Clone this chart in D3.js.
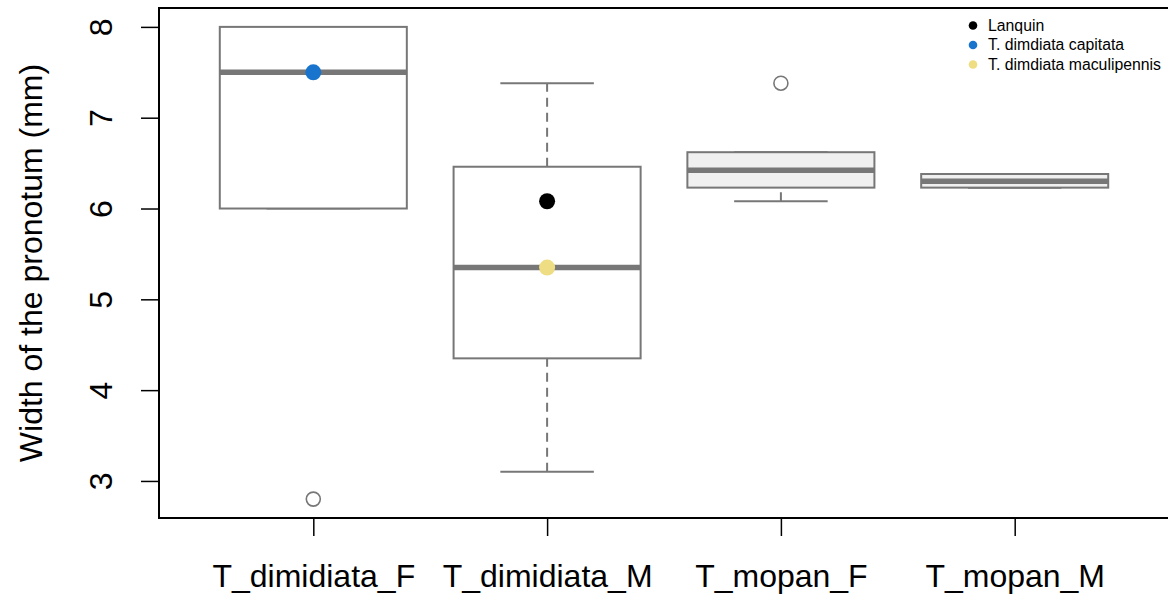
<!DOCTYPE html>
<html>
<head>
<meta charset="utf-8">
<script src="https://cdn.jsdelivr.net/npm/d3@7"></script>
<style>
  body { margin: 0; background: #fff; }
  svg { display: block; font-family: "Liberation Sans", Arial, sans-serif; }
</style>
</head>
<body>
<svg id="chart" width="1168" height="594"></svg>
<script>
// data
const groups = ["T_dimidiata_F", "T_dimidiata_M", "T_mopan_F", "T_mopan_M"]
const whiskerLow = [6.0, 3.10, 6.08, 6.23]
const q1 = [6.0, 4.35, 6.23, 6.23]
const median = [7.5, 5.35, 6.42, 6.30]
const q3 = [8.0, 6.46, 6.62, 6.38]
const whiskerHigh = [8.0, 7.38, 6.62, 6.38]
const boxFill = ["#ffffff", "#ffffff", "#f0f0f0", "#f0f0f0"]
const outliers = [{g: 1, v: 2.8}, {g: 3, v: 7.38}]

const specimenNames = ["Lanquin", "T. dimdiata capitata", "T. dimdiata maculipennis"]
const specimenColors = ["#000000", "#1874cd", "#eedd82"]
const specimenGroup = [2, 1, 2]
const specimenValue = [6.08, 7.5, 5.35]

const yTicks = [3, 4, 5, 6, 7, 8]

const svg = d3.select("#chart")
const plotLeft = 159, plotRight = 1169, plotTop = 8, plotBottom = 518
const grey = "#777777"

const x = d3.scaleLinear().domain([0.34, 4.66]).range([plotLeft, plotRight])
const y = d3.scaleLinear().domain([2.592, 8.208]).range([plotBottom, plotTop])
const unit = x(2) - x(1)
const boxW = 0.8 * unit

// axes
const yAxis = svg.append("g")
    .attr("transform", `translate(${plotLeft},0)`)
    .call(d3.axisLeft(y).tickValues(yTicks).tickSize(18).tickFormat(d3.format("d")))
yAxis.select(".domain").remove()
yAxis.selectAll(".tick line").attr("stroke", "#000").attr("stroke-width", 1.5)
yAxis.selectAll(".tick text")
    .attr("x", null).attr("dy", null)
    .attr("transform", "translate(-47,0) rotate(-90)")
    .attr("text-anchor", "middle")
    .attr("font-size", 32).attr("fill", "#000")

const xAxis = svg.append("g")
    .attr("transform", `translate(0,${plotBottom})`)
    .call(d3.axisBottom(x).tickValues([1, 2, 3, 4]).tickSize(18).tickFormat((d, i) => groups[i]))
xAxis.select(".domain").remove()
xAxis.selectAll(".tick line").attr("stroke", "#000").attr("stroke-width", 1.5)
xAxis.selectAll(".tick text")
    .attr("y", 69).attr("dy", null)
    .attr("font-size", 32).attr("fill", "#000")

svg.append("text")
    .attr("transform", `translate(42,${(plotTop + plotBottom) / 2}) rotate(-90)`)
    .attr("text-anchor", "middle")
    .attr("font-size", 32)
    .text("Width of the pronotum (mm)")

// boxes
const box = svg.selectAll("g.box")
    .data(groups.map((g, i) => i))
    .join("g").attr("class", "box")

box.append("line")
    .attr("x1", i => x(i + 1)).attr("x2", i => x(i + 1))
    .attr("y1", i => y(whiskerLow[i])).attr("y2", i => y(q1[i]))
    .attr("stroke", grey).attr("stroke-width", 2).attr("stroke-dasharray", "9,6")
box.append("line")
    .attr("x1", i => x(i + 1)).attr("x2", i => x(i + 1))
    .attr("y1", i => y(q3[i])).attr("y2", i => y(whiskerHigh[i]))
    .attr("stroke", grey).attr("stroke-width", 2).attr("stroke-dasharray", "9,6")
box.append("line")
    .attr("x1", i => x(i + 1) - boxW / 4).attr("x2", i => x(i + 1) + boxW / 4)
    .attr("y1", i => y(whiskerLow[i])).attr("y2", i => y(whiskerLow[i]))
    .attr("stroke", grey).attr("stroke-width", 2)
box.append("line")
    .attr("x1", i => x(i + 1) - boxW / 4).attr("x2", i => x(i + 1) + boxW / 4)
    .attr("y1", i => y(whiskerHigh[i])).attr("y2", i => y(whiskerHigh[i]))
    .attr("stroke", grey).attr("stroke-width", 2)
box.append("rect")
    .attr("x", i => x(i + 1) - boxW / 2).attr("width", boxW)
    .attr("y", i => y(q3[i])).attr("height", i => y(q1[i]) - y(q3[i]))
    .attr("fill", i => boxFill[i]).attr("stroke", grey).attr("stroke-width", 2)
box.append("line")
    .attr("x1", i => x(i + 1) - boxW / 2).attr("x2", i => x(i + 1) + boxW / 2)
    .attr("y1", i => y(median[i])).attr("y2", i => y(median[i]))
    .attr("stroke", grey).attr("stroke-width", 5.5)

svg.selectAll("circle.out")
    .data(outliers)
    .join("circle").attr("class", "out")
    .attr("cx", d => x(d.g)).attr("cy", d => y(d.v)).attr("r", 7)
    .attr("fill", "none").attr("stroke", grey).attr("stroke-width", 1.6)

// highlighted specimens
svg.selectAll("circle.spec")
    .data(specimenNames.map((n, i) => i))
    .join("circle").attr("class", "spec")
    .attr("cx", i => x(specimenGroup[i])).attr("cy", i => y(specimenValue[i])).attr("r", 8)
    .attr("fill", i => specimenColors[i])

// frame
svg.append("rect")
    .attr("x", plotLeft).attr("y", plotTop)
    .attr("width", plotRight - plotLeft).attr("height", plotBottom - plotTop)
    .attr("fill", "none").attr("stroke", "#000").attr("stroke-width", 2)

// legend
const legend = svg.append("g").attr("transform", "translate(973,25.5)")
const item = legend.selectAll("g")
    .data(specimenNames)
    .join("g").attr("transform", (d, i) => `translate(0,${i * 19.5})`)
item.append("circle").attr("r", 4.3).attr("fill", (d, i) => specimenColors[i])
item.append("text")
    .attr("x", 15).attr("y", 5.4)
    .attr("font-size", 15.8)
    .text(d => d)
</script>
</body>
</html>
